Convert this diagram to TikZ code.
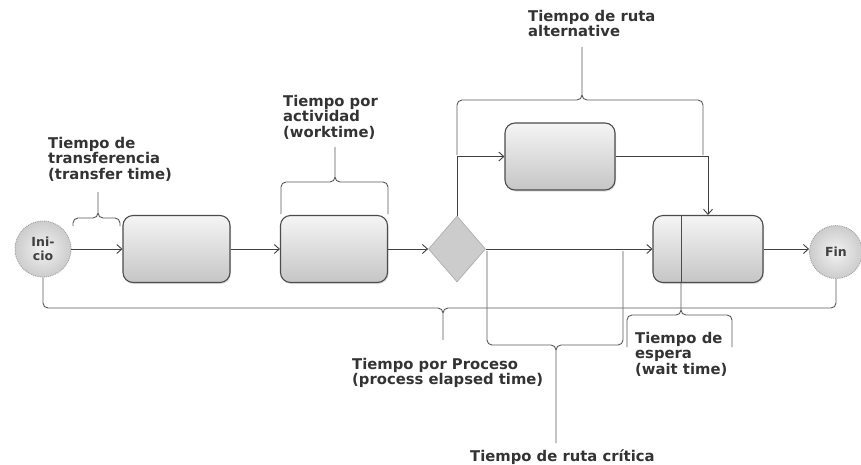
\documentclass[tikz,border=0pt]{standalone}
\usepackage{fontspec}
\setmainfont{DejaVu Sans}
\usetikzlibrary{shapes.geometric,shadows,arrows.meta}

\begin{document}
\begin{tikzpicture}[x=1pt,y=-1pt,
	actbox/.style={draw=black!70, line width=1.1pt, rounded corners=10pt, top color=gray!8, bottom color=gray!45, minimum width=107pt, minimum height=67pt, drop shadow={opacity=0.25, shadow xshift=1pt, shadow yshift=-1.5pt}},
	endpoint/.style={circle, draw=gray!75, densely dotted, line width=0.9pt, inner color=gray!10, outer color=gray!40, minimum size=56pt, inner sep=0pt, align=center, text=black!75, font=\bfseries\fontsize{12.5}{14}\selectfont},
	gate/.style={diamond, draw=gray!60, line width=0.8pt, fill=gray!40, minimum width=57pt, minimum height=66pt, inner sep=0pt},
	flow/.style={-{Straight Barb[length=5pt,width=9pt]}, line width=0.9pt, black!75},
	brace/.style={line width=0.9pt, black!65, rounded corners=5pt},
	lbl/.style={inner sep=0pt, align=left, text=black!80, font=\bfseries\fontsize{14.8}{15.5}\selectfont}
]
	\useasboundingbox (0,0) rectangle (861,464);
	%shapes
		\node[endpoint] (inicio) at (43,249) {Ini-\\cio};
		\node[actbox] (act1) at (176.5,249) {};
		\node[actbox] (act2) at (334,249) {};
		\node[gate] (gate) at (457,249) {};
		\node[actbox, minimum width=110pt] (alt) at (560,156.5) {};
		\node[actbox, minimum width=110pt] (merge) at (708,249) {};
		\draw[black!70, line width=1pt] ([xshift=29pt]merge.north west) -- ([xshift=29pt]merge.south west);
		\node[endpoint, minimum size=53pt] (fin) at (836,252) {Fin};
	%flow
		\draw[flow] (inicio) -- (act1);
		\draw[flow] (act1) -- (act2);
		\draw[flow] (act2) -- (gate);
		\draw[flow] (gate) -- (merge);
		\draw[flow] (gate.north) |- (alt);
		\draw[flow] (alt.east) -| (merge.north);
		\draw[flow] (merge) -- (fin.west |- merge);
	%transfer time
		\draw[brace] (73,226) |- (98,218) -- (98,192) (120,226) |- (98,218) -- (98,192);
		\node[lbl, anchor=north west] (transfer) at (48,137) {Tiempo de\\transferencia\\(transfer time)};
	%worktime
		\draw[brace] (281,214) |- (335,182) -- (335,147) (388,214) |- (335,182) -- (335,147);
		\node[lbl, anchor=north west] (work) at (283,95) {Tiempo por\\actividad\\(worktime)};
	%alternative route
		\draw[brace] (457,155) |- (582,100) -- (582,47) (703,155) |- (582,100) -- (582,47);
		\node[lbl, anchor=north west] (altlbl) at (528,10) {Tiempo de ruta\\alternative};
	%process elapsed time
		\draw[brace] (inicio.south) |- (443,308) -- (443,340) (fin.south) |- (443,308) -- (443,340);
		\node[lbl, anchor=north west] (process) at (352,358) {Tiempo por Proceso\\(process elapsed time)};
	%critical route
		\draw[brace] (487,251) |- (556,345) -- (556,443) (623,251) |- (556,345) -- (556,443);
		\node[lbl, anchor=north west] (critical) at (470,449) {Tiempo de ruta crítica};
	%wait time
		\draw[brace] (627,347) |- (681,315) -- (681,283) (732,347) |- (681,315) -- (681,283);
		\node[lbl, anchor=north west] (wait) at (635,332) {Tiempo de\\espera\\(wait time)};
\end{tikzpicture}
\end{document}
